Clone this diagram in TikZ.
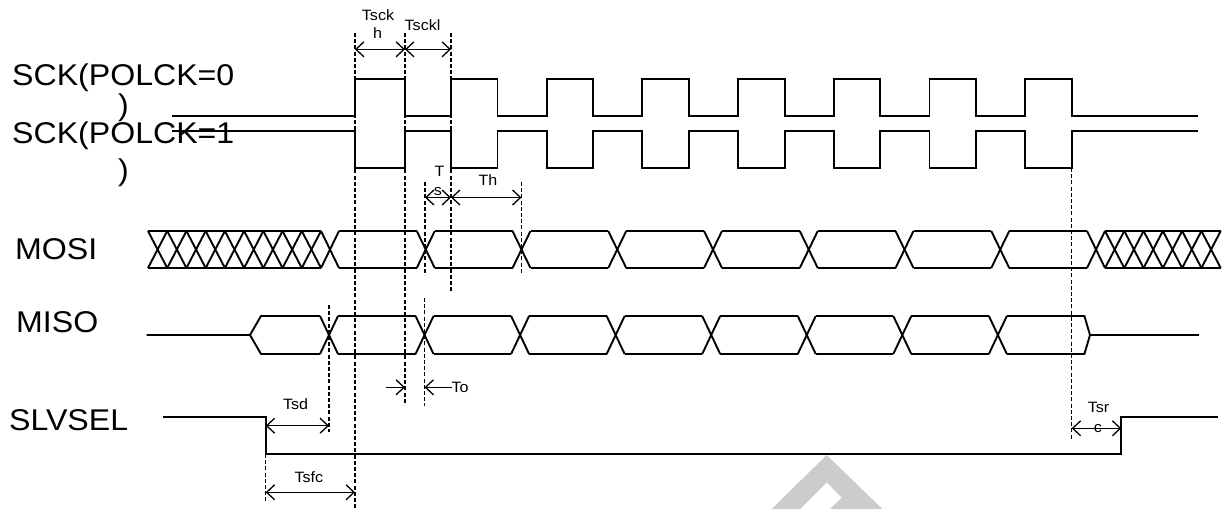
\documentclass[tikz,border=0pt]{standalone}
\usepackage{fontspec}
\setmainfont{Liberation Sans}
\usetikzlibrary{arrows.meta}
\newcommand\stretchtxt[1]{\scalebox{1.07}[1]{#1}}
\tikzset{
  sig/.style={line width=1.9pt, line join=miter},
  guide/.style={line width=1.3pt, dash pattern=on 4pt off 2.2pt},
  dimarrow/.style={line width=1.3pt, {Straight Barb[length=8pt,width=15pt]}-{Straight Barb[length=8pt,width=15pt]}},
  onearrow/.style={line width=1.3pt, -{Straight Barb[length=8pt,width=15pt]}},
  biglabel/.style={inner sep=0pt, anchor=base west, font=\fontsize{30}{36}\selectfont},
  smalllabel/.style={inner sep=0pt, anchor=base, font=\fontsize{15}{18}\selectfont},
}
\begin{document}
\begin{tikzpicture}[x=1pt,y=-1pt]
\useasboundingbox (0,0) rectangle (1229,509);
% watermark
\fill[black!20] (771.7,509) -- (826.7,455) -- (882.3,509) -- (830,509) -- (841.7,497.7) -- (826.7,482.3) -- (800,509) -- cycle;

% big labels
\node[biglabel] (sck0) at (12,85) {\stretchtxt{SCK(POLCK=0}};
\node[biglabel] (par0) at (118,115.5) {\stretchtxt{)}};
\node[biglabel] (sck1) at (12,143.5) {\stretchtxt{SCK(POLCK=1}};
\node[biglabel] (par1) at (118,180.5) {\stretchtxt{)}};
\node[biglabel] (mosi) at (15,259.3) {\stretchtxt{MOSI}};
\node[biglabel] (miso) at (16,332.7) {\stretchtxt{MISO}};
\node[biglabel] (slvsel) at (9,430.7) {\stretchtxt{SLVSEL}};

% SCK waveforms
\draw[sig] (172,116) foreach \a/\b in {355/405,451/497.5,546.7/593.2,642.4/688.9,738.1/784.6,833.8/880.3,929.5/976,1025.2/1071.7}
  { -- (\a,116) -- (\a,79) -- (\b,79) -- (\b,116)} -- (1198,116);
\draw[sig] (172,131) foreach \a/\b in {355/405,451/497.5,546.7/593.2,642.4/688.9,738.1/784.6,833.8/880.3,929.5/976,1025.2/1071.7}
  { -- (\a,131) -- (\a,168) -- (\b,168) -- (\b,131)} -- (1198,131);

% MOSI
\draw[sig] (148,231) -- (321,231) (148,268) -- (321,268);
\foreach \i in {0,...,8}{
  \draw[sig] ({148+19.222*\i},231) -- ({148+19.222*(\i+1)},268);
  \draw[sig] ({148+19.222*\i},268) -- ({148+19.222*(\i+1)},231);
}
\draw[sig] (1105,231) -- (1220.7,231) (1105,268) -- (1220.7,268);
\foreach \i in {0,...,5}{
  \draw[sig] ({1105+19.283*\i},231) -- ({1105+19.283*(\i+1)},268);
  \draw[sig] ({1105+19.283*\i},268) -- ({1105+19.283*(\i+1)},231);
}
\foreach \k in {0,...,8}{
  \draw[sig] ({330+95.75*\k-9},231) -- ({330+95.75*\k+9},268);
  \draw[sig] ({330+95.75*\k-9},268) -- ({330+95.75*\k+9},231);
}
\foreach \k in {0,...,7}{
  \draw[sig] ({330+95.75*\k+9},231) -- ({330+95.75*(\k+1)-9},231);
  \draw[sig] ({330+95.75*\k+9},268) -- ({330+95.75*(\k+1)-9},268);
}

% MISO
\draw[sig] (146.7,335) -- (250,335) -- (261,316) -- (320,316);
\draw[sig] (250,335) -- (261,354) -- (320,354);
\foreach \k in {0,...,7}{
  \draw[sig] ({329+95.55*\k-9},316) -- ({329+95.55*\k+9},354);
  \draw[sig] ({329+95.55*\k-9},354) -- ({329+95.55*\k+9},316);
}
\foreach \k in {0,...,6}{
  \draw[sig] ({329+95.55*\k+9},316) -- ({329+95.55*(\k+1)-9},316);
  \draw[sig] ({329+95.55*\k+9},354) -- ({329+95.55*(\k+1)-9},354);
}
\draw[sig] (1006.85,316) -- (1084.4,316) -- (1090,335) -- (1084.4,354) -- (1006.85,354);
\draw[sig] (1090,335) -- (1199.4,335);

% SLVSEL
\draw[sig] (162.7,416.7) -- (265.7,416.7) -- (265.7,454) -- (1121.3,454) -- (1121.3,416.7) -- (1217.5,416.7);

% guide lines
\draw[guide] (355,33) -- (355,508);
\draw[guide] (405,33) -- (405,405);
\draw[guide] (451,33) -- (451,291);
\draw[guide] (425,182) -- (425,275);
\draw[guide] (424.5,298) -- (424.5,406);
\draw[guide] (521.5,182) -- (521.5,274);
\draw[guide] (329,305) -- (329,432);
\draw[guide] (265.7,416.7) -- (265.7,502);
\draw[guide] (1071.7,168) -- (1071.7,439);

% dimension arrows
\draw[dimarrow] (355,49.3) -- (405,49.3);
\draw[dimarrow] (405,49.3) -- (451,49.3);
\draw[dimarrow] (425,197.5) -- (451,197.5);
\draw[dimarrow] (451,197.5) -- (521.5,197.5);
\draw[dimarrow] (265.7,425.7) -- (329,425.7);
\draw[dimarrow] (265.7,492.3) -- (355,492.3);
\draw[dimarrow] (1071.7,428.3) -- (1121.3,428.3);
\draw[onearrow] (385.5,387.3) -- (405,387.3);

% small labels
\node[smalllabel] (tsck) at (378,20.7) {\stretchtxt{Tsck}};
\node[smalllabel] (tsckh) at (377.5,38.3) {\stretchtxt{h}};
\node[smalllabel, anchor=base west] (tsckl) at (404.5,30) {\stretchtxt{Tsckl}};
\node[smalllabel] (tsT) at (439.5,176.5) {\stretchtxt{T}};
\node[smalllabel] (tss) at (438,195) {\stretchtxt{s}};
\node[smalllabel] (th) at (488,185.5) {\stretchtxt{Th}};
\node[smalllabel] (tsd) at (295.6,409.3) {\stretchtxt{Tsd}};
\node[smalllabel] (tsfc) at (308.8,482.7) {\stretchtxt{Tsfc}};
\node[smalllabel, anchor=base west] (to) at (451.5,392.7) {\stretchtxt{To}};
\node[smalllabel] (tsr) at (1098.6,412.7) {\stretchtxt{Tsr}};
\node[smalllabel] (tsc) at (1098,432) {\stretchtxt{c}};
\coordinate (toend) at (424.5,387.3);
\draw[onearrow] (to.west |- toend) -- (toend);
\end{tikzpicture}
\end{document}
